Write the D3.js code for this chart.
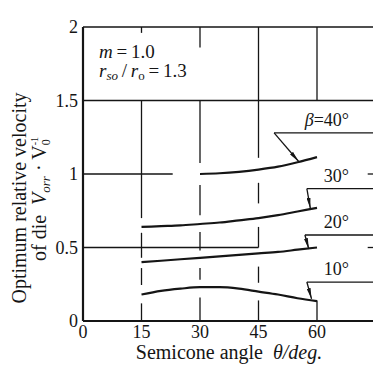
<!DOCTYPE html>
<html>
<head>
<meta charset="utf-8">
<script src="https://cdn.jsdelivr.net/npm/d3@7"></script>
<style>
  body { margin: 0; background: #fff; }
  svg { display: block; font-family: "Liberation Serif", "DejaVu Serif", serif; }
</style>
</head>
<body>
<svg class="svg" width="373" height="367"></svg>
<script>
// semicone angle (deg) for the beta = 10, 20, 30 curves
var theta = [15, 20, 25, 30, 35, 40, 45, 50, 55, 60];
var beta10 = [0.18, 0.205, 0.22, 0.23, 0.23, 0.22, 0.20, 0.18, 0.155, 0.135];
var beta20 = [0.40, 0.41, 0.42, 0.43, 0.44, 0.45, 0.46, 0.47, 0.485, 0.50];
var beta30 = [0.64, 0.645, 0.65, 0.66, 0.67, 0.685, 0.70, 0.72, 0.745, 0.77];
// beta = 40 only starts at 30 deg
var theta40 = [30, 35, 40, 45, 50, 55, 60];
var beta40 = [1.0, 1.005, 1.015, 1.03, 1.05, 1.08, 1.115];

var xTicks = [0, 15, 30, 45, 60];
var yTicks = [0, 0.5, 1, 1.5, 2];
var yTickLabels = ['0', '0.5', '1', '1.5', '2'];

// curve labels + leader lines (shelf at shelfV from shelfFrom to the right edge, arrow to tip)
var curveLabels = ['β=40°', '30°', '20°', '10°'];
var shelfV = [1.28, 0.90, 0.585, 0.265];
var shelfFrom = [49, 57.4, 56.9, 57.4];
var tipTheta = [55.3, 58.3, 57.9, 58.6];
var tipV = [1.085, 0.765, 0.49, 0.15];

// broken vertical grid lines: [theta, V top, V bottom]
var vGrid = [
  [15, 2, 1.96], [15, 1.5, 0.70], [15, 0.60, 0.43], [15, 0.36, 0.245], [15, 0.12, 0],
  [30, 2, 1.86], [30, 1.5, 1.075], [30, 0.925, 0.72], [30, 0.605, 0.48], [30, 0.36, 0.28], [30, 0.16, 0],
  [45, 2, 1.11], [45, 0.94, 0.80], [45, 0.64, 0.5], [45, 0.37, 0.26], [45, 0.14, 0],
  [60, 2, 1.5], [60, 0.14, 0]
];
// horizontal grid lines: [V, theta from, theta to]
var hGrid = [[2, 0, 75], [1.5, 0, 75], [1, 0, 23], [0.5, 0, 45], [1, 73, 75], [0.5, 73, 75]];

var svg = d3.select('.svg');
var x = d3.scaleLinear().domain([0, 60]).range([83, 317]);
var y = d3.scaleLinear().domain([0, 2]).range([321, 27]);
var ink = '#151515';

// arrow head marker
svg.append('defs').append('marker')
  .attr('id', 'arr')
  .attr('viewBox', '0 0 11 4')
  .attr('refX', 11).attr('refY', 2)
  .attr('markerWidth', 11).attr('markerHeight', 4)
  .attr('markerUnits', 'userSpaceOnUse')
  .attr('orient', 'auto')
  .append('path').attr('d', 'M0,0 L11,2 L0,4 Z').attr('fill', ink);

var grid = svg.append('g').attr('stroke', ink).attr('stroke-width', 1.3);
grid.selectAll('.vg').data(vGrid).enter().append('line')
  .attr('x1', d => x(d[0])).attr('x2', d => x(d[0]))
  .attr('y1', d => y(d[1])).attr('y2', d => y(d[2]));
grid.selectAll('.hg').data(hGrid).enter().append('line')
  .attr('x1', d => x(d[1])).attr('x2', d => x(d[2]))
  .attr('y1', d => y(d[0])).attr('y2', d => y(d[0]));

// axes (thick frame on left and bottom)
svg.append('line').attr('x1', x(0)).attr('x2', x(0)).attr('y1', y(0)).attr('y2', y(2))
  .attr('stroke', ink).attr('stroke-width', 2.2);
svg.append('line').attr('x1', x(0)).attr('x2', x(75)).attr('y1', y(0)).attr('y2', y(0))
  .attr('stroke', ink).attr('stroke-width', 2.2);

// tick labels
svg.selectAll('.yt').data(yTicks).enter().append('text')
  .attr('x', 78).attr('y', d => y(d) + 6)
  .attr('text-anchor', 'end').attr('font-size', 18).attr('fill', ink)
  .text((d, i) => yTickLabels[i]);
svg.selectAll('.xt').data(xTicks).enter().append('text')
  .attr('x', d => x(d)).attr('y', 338)
  .attr('text-anchor', 'middle').attr('font-size', 18).attr('fill', ink)
  .text(d => d);

// curves
var line = d3.line().x(d => x(d[0])).y(d => y(d[1])).curve(d3.curveMonotoneX);
var series = [
  d3.zip(theta40, beta40),
  d3.zip(theta, beta30),
  d3.zip(theta, beta20),
  d3.zip(theta, beta10)
];
svg.selectAll('.curve').data(series).enter().append('path')
  .attr('class', 'curve')
  .attr('d', line)
  .attr('fill', 'none').attr('stroke', ink).attr('stroke-width', 2.2);

// leader lines with arrows and labels
curveLabels.forEach(function (lab, i) {
  svg.append('line')
    .attr('x1', x(shelfFrom[i])).attr('x2', x(75))
    .attr('y1', y(shelfV[i])).attr('y2', y(shelfV[i]))
    .attr('stroke', ink).attr('stroke-width', 1.3);
  svg.append('line')
    .attr('x1', x(shelfFrom[i])).attr('y1', y(shelfV[i]))
    .attr('x2', x(tipTheta[i])).attr('y2', y(tipV[i]))
    .attr('stroke', ink).attr('stroke-width', 1.3)
    .attr('marker-end', 'url(#arr)');
  var t = svg.append('text')
    .attr('x', 349).attr('y', y(shelfV[i]) - 7)
    .attr('text-anchor', 'end').attr('font-size', 18).attr('fill', ink);
  if (lab.charAt(0) === 'β') {
    t.append('tspan').attr('font-style', 'italic').text('β');
    t.append('tspan').text(lab.slice(1));
  } else {
    t.text(lab);
  }
});

// parameters box text
var p1 = svg.append('text').attr('x', 99).attr('y', 58).attr('font-size', 19).attr('fill', ink);
p1.append('tspan').attr('font-style', 'italic').text('m');
p1.append('tspan').text('\u2009=\u20091.0');
var p2 = svg.append('text').attr('x', 99).attr('y', 77).attr('font-size', 19).attr('fill', ink);
p2.append('tspan').attr('font-style', 'italic').text('r');
p2.append('tspan').attr('font-style', 'italic').attr('font-size', 13).attr('dy', 3).text('so');
p2.append('tspan').attr('dy', -3).text('\u2009/\u2009');
p2.append('tspan').attr('font-style', 'italic').text('r');
p2.append('tspan').attr('font-size', 13).attr('dy', 3).text('o');
p2.append('tspan').attr('dy', -3).text('\u2009=\u20091.3');

// x axis title
var xt = svg.append('text').attr('x', 229).attr('y', 359)
  .attr('text-anchor', 'middle').attr('font-size', 20).attr('fill', ink);
xt.append('tspan').text('Semicone angle\u00a0\u00a0');
xt.append('tspan').attr('font-style', 'italic').text('θ/deg.');

// y axis title (two rotated lines)
svg.append('text').attr('transform', 'translate(26,198) rotate(-90)')
  .attr('text-anchor', 'middle').attr('font-size', 20).attr('fill', ink)
  .text('Optimum relative velocity');
var yt = svg.append('text').attr('transform', 'translate(46,199) rotate(-90)')
  .attr('text-anchor', 'middle').attr('font-size', 20).attr('fill', ink);
yt.append('tspan').text('of die\u00a0\u00a0');
yt.append('tspan').attr('font-style', 'italic').text('V');
yt.append('tspan').attr('font-style', 'italic').attr('font-size', 13).attr('dy', 4).text('orr');
yt.append('tspan').attr('dy', -4).text(' · V');
yt.append('tspan').attr('font-size', 12).attr('dy', 4).text('0');
yt.append('tspan').attr('font-size', 10).attr('dx', -6).attr('dy', -12).text('-1');
</script>
</body>
</html>
